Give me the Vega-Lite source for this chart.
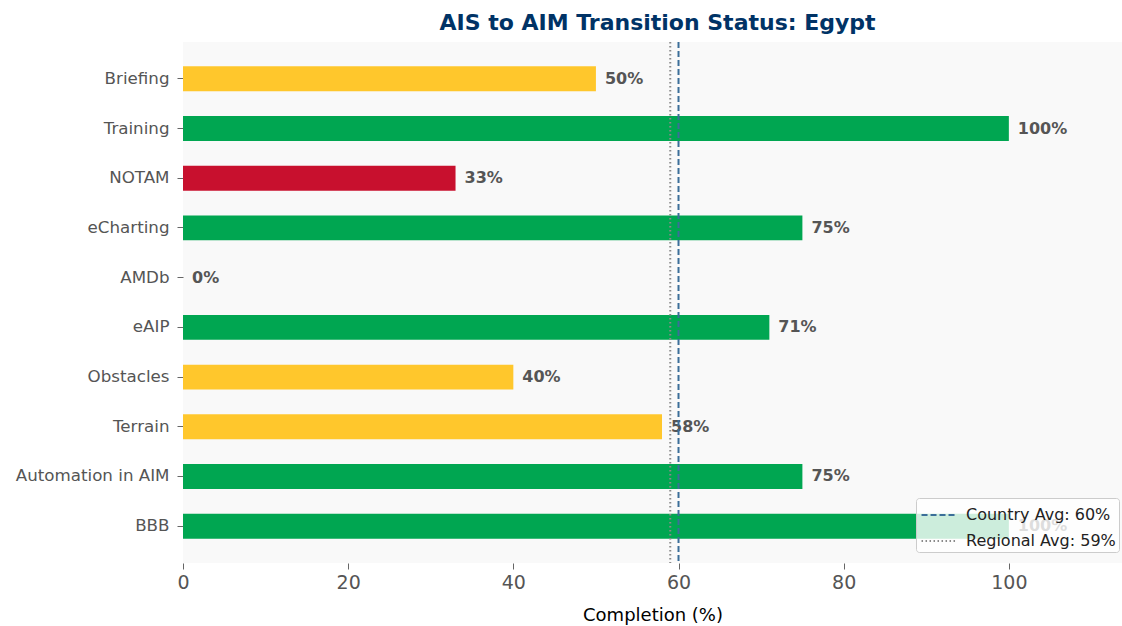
{
  "$schema": "https://vega.github.io/schema/vega-lite/v6.json",
  "autosize": "none",
  "width": 939,
  "height": 521,
  "padding": {"left": 183, "top": 42, "right": 0, "bottom": 63},
  "background": "white",
  "config": {
    "font": "DejaVu Sans",
    "view": {"fill": "#f9f9f9", "stroke": null}
  },
  "title": {
    "text": "AIS to AIM Transition Status: Egypt",
    "fontSize": 22,
    "fontWeight": "bold",
    "color": "#003366",
    "anchor": "middle",
    "offset": 6,
    "dx": 5
  },
  "datasets": {
    "bars": [
      {"component": "Briefing", "pct": 50, "cat": "Partial"},
      {"component": "Training", "pct": 100, "cat": "Good"},
      {"component": "NOTAM", "pct": 33, "cat": "Low"},
      {"component": "eCharting", "pct": 75, "cat": "Good"},
      {"component": "AMDb", "pct": 0, "cat": "Low"},
      {"component": "eAIP", "pct": 71, "cat": "Good"},
      {"component": "Obstacles", "pct": 40, "cat": "Partial"},
      {"component": "Terrain", "pct": 58, "cat": "Partial"},
      {"component": "Automation in AIM", "pct": 75, "cat": "Good"},
      {"component": "BBB", "pct": 100, "cat": "Good"}
    ],
    "avgs": [
      {"cat": "Country Avg: 60%", "value": 60},
      {"cat": "Regional Avg: 59%", "value": 59}
    ]
  },
  "layer": [
    {
      "data": {"name": "bars"},
      "mark": {"type": "bar"},
      "encoding": {
        "y": {
          "field": "component",
          "type": "nominal",
          "sort": null,
          "scale": {"paddingInner": 0.5, "paddingOuter": 0.49},
          "axis": {
            "title": null,
            "domain": false,
            "labelFontSize": 16.7,
            "labelColor": "#555555",
            "labelPadding": 8,
            "tickSize": 6,
            "tickColor": "#666666"
          }
        },
        "x": {
          "field": "pct",
          "type": "quantitative",
          "scale": {"domain": [0, 113.7], "nice": false},
          "axis": {
            "values": [0, 20, 40, 60, 80, 100],
            "title": "Completion (%)",
            "titleFontSize": 18,
            "titleFontWeight": "normal",
            "titleColor": "#000000",
            "titlePadding": 14,
            "labelFontSize": 19,
            "labelColor": "#555555",
            "labelPadding": 4,
            "labelFlush": false,
            "grid": false,
            "domain": false,
            "tickSize": 6,
            "tickColor": "#666666"
          }
        },
        "color": {
          "field": "cat",
          "type": "nominal",
          "scale": {
            "domain": ["Good", "Partial", "Low", "Country Avg: 60%", "Regional Avg: 59%"],
            "range": ["#00A651", "#FFC72C", "#C8102E", "#3b6e99", "#8a8a8a"]
          }
        }
      }
    },
    {
      "data": {"name": "bars"},
      "transform": [{"calculate": "datum.pct + '%'", "as": "label"}],
      "mark": {"type": "text", "align": "left", "baseline": "middle", "dx": 9, "fontSize": 16, "fontWeight": "bold", "color": "#555555"},
      "encoding": {
        "y": {"field": "component", "type": "nominal", "sort": null},
        "x": {"field": "pct", "type": "quantitative"},
        "text": {"field": "label", "type": "nominal"}
      }
    },
    {
      "data": {"name": "avgs"},
      "mark": {"type": "rule", "strokeWidth": 2},
      "encoding": {
        "x": {"field": "value", "type": "quantitative"},
        "color": {
          "field": "cat",
          "type": "nominal",
          "legend": {
            "values": ["Country Avg: 60%", "Regional Avg: 59%"],
            "title": null,
            "orient": "none",
            "legendX": 733,
            "legendY": 456,
            "fillColor": "rgba(255,255,255,0.8)",
            "strokeColor": "#cccccc",
            "cornerRadius": 3,
            "padding": 3,
            "labelFontSize": 16,
            "labelColor": "#222222",
            "labelOffset": 19,
            "symbolType": "M-0.9,0H1.9",
            "symbolSize": 650,
            "symbolStrokeWidth": 2,
            "rowPadding": 4
          }
        },
        "strokeDash": {
          "field": "cat",
          "type": "nominal",
          "scale": {
            "domain": ["Good", "Partial", "Low", "Country Avg: 60%", "Regional Avg: 59%"],
            "range": [[1, 0], [1, 0], [1, 0], [6, 3], [1.5, 2.5]]
          },
          "legend": {
            "values": ["Country Avg: 60%", "Regional Avg: 59%"],
            "title": null,
            "orient": "none",
            "legendX": 733,
            "legendY": 456,
            "fillColor": "rgba(255,255,255,0.8)",
            "strokeColor": "#cccccc",
            "cornerRadius": 3,
            "padding": 3,
            "labelFontSize": 16,
            "labelColor": "#222222",
            "labelOffset": 19,
            "symbolType": "M-0.9,0H1.9",
            "symbolSize": 650,
            "symbolStrokeWidth": 2,
            "rowPadding": 4
          }
        }
      }
    }
  ]
}
